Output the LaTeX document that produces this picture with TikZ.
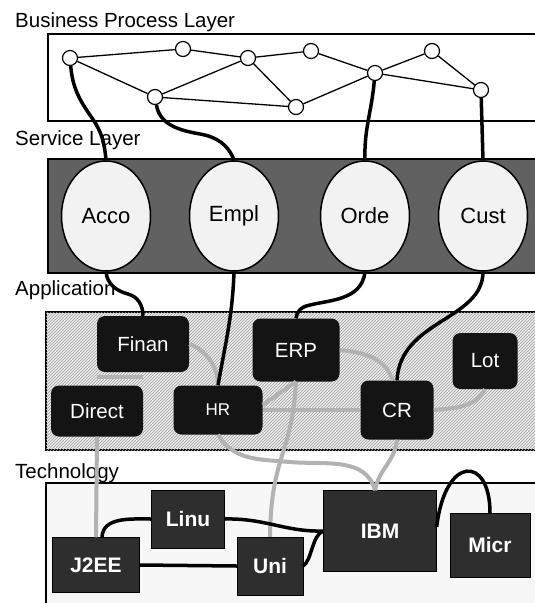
\documentclass[tikz,border=0pt]{standalone}
\usepackage{fontspec}
\setmainfont{Liberation Sans}
\usetikzlibrary{shapes.geometric,patterns}
\tikzset{
  layerlbl/.style={anchor=west, inner sep=0pt, font=\fontsize{20.5}{20.5}\selectfont},
  bpnode/.style={circle, draw=black, line width=1.2pt, fill=white, minimum size=15pt, inner sep=0pt},
  bpline/.style={line width=1.3pt},
  svc/.style={ellipse, draw=black, line width=1.5pt, fill=gray!10, minimum width=89pt, minimum height=110pt, inner sep=0pt, font=\fontsize{22}{22}\selectfont},
  appnode/.style={rectangle, rounded corners=8pt, fill=black!92, text=white, inner sep=0pt, font=\fontsize{20.5}{20.5}\selectfont},
  technode/.style={rectangle, draw=black, fill=black!82, text=white, inner sep=0pt, font=\bfseries\fontsize{21}{21}\selectfont},
  link/.style={line width=3.5pt, black},
  tie/.style={line width=4pt, gray!60}
}
\begin{document}
\begin{tikzpicture}[x=1pt,y=1pt]
\useasboundingbox (0,0) rectangle (535,-603);
\clip (0,0) rectangle (535,-603);
\fill[white] (0,0) rectangle (535,-603);
% layers
\draw[line width=1.5pt, fill=white] (48,-34) rectangle (545,-121);
\draw[line width=1.5pt, fill=black!62] (48,-159) rectangle (545,-273);
\draw[line width=1.5pt, fill=gray!15, postaction={pattern=north east lines, pattern color=gray!75}] (46,-312) rectangle (545,-450);
\draw[line width=1.5pt, fill=gray!6] (46,-483) rectangle (545,-615);
\node[layerlbl] (bpl) at (15,-22) {Business Process Layer};
\node[layerlbl] (svl) at (15,-140) {Service Layer};
\node[layerlbl] (apl) at (15,-290) {Application};
\node[layerlbl] (tcl) at (15,-473) {Technology};
% process graph
\node[bpnode] (bp1) at (70,-58) {};
\node[bpnode] (bp2) at (183,-49) {};
\node[bpnode] (bp3) at (248,-58) {};
\node[bpnode] (bp4) at (311,-51) {};
\node[bpnode] (bp5) at (375,-73) {};
\node[bpnode] (bp6) at (432,-51) {};
\node[bpnode] (bp7) at (481,-90) {};
\node[bpnode] (bp8) at (155,-97) {};
\node[bpnode] (bp9) at (296,-107) {};
\draw[bpline] (bp1)--(bp2)--(bp3)--(bp4)--(bp5)--(bp6)--(bp7)--(bp5);
\draw[bpline] (bp1)--(bp8)--(bp3)--(bp9)--(bp5);
\draw[bpline] (bp8)--(bp9);
% services
\node[svc] (Acco) at (106,-216) {Acco};
\node[svc] (Empl) at (234,-216) {Empl};
\node[svc] (Orde) at (365,-216) {Orde};
\node[svc] (Cust) at (483,-216) {Cust};
% applications
\node[appnode, minimum width=92pt, minimum height=56pt] (Finan) at (143,-344) {Finan};
\node[appnode, minimum width=87pt, minimum height=63pt] (ERP) at (296,-350) {ERP};
\node[appnode, minimum width=65pt, minimum height=56pt] (Lot) at (485,-361) {Lot};
\node[appnode, minimum width=92pt, minimum height=51pt] (Direct) at (97,-411) {Direct};
\node[appnode, minimum width=89pt, minimum height=49pt, font=\fontsize{17}{17}\selectfont] (HR) at (218,-410) {HR};
\node[appnode, minimum width=73pt, minimum height=59pt] (CR) at (397,-410) {CR};
% technology
\node[technode, minimum width=73pt, minimum height=58pt] (Linu) at (188,-519) {Linu};
\node[technode, minimum width=87pt, minimum height=55pt] (J2EE) at (96,-565) {J2EE};
\node[technode, minimum width=66pt, minimum height=58pt] (Uni) at (270,-566) {Uni};
\node[technode, minimum width=113pt, minimum height=81pt] (IBM) at (380,-531) {IBM};
\node[technode, minimum width=80pt, minimum height=64pt] (Micr) at (490,-545) {Micr};
% application ties
\coordinate (fd) at (97,-377);
\draw[tie] (fd) -- (Finan.south |- fd);
\draw[tie] (Finan.east) .. controls (205,-350) and (218,-365) .. (HR.north);
\draw[tie] (ERP.east) to[out=-5,in=110] ([xshift=-4pt]CR.north);
\draw[tie] (HR.east) -- (CR.west);
\draw[tie] (CR.east) to[out=5,in=-120] (Lot.south);
\draw[tie] (ERP.south) -- ([yshift=5pt]HR.east);
\draw[tie] (ERP.south) .. controls (292,-455) and (271,-455) .. (Uni.north);
\draw[tie] (HR.south) to[out=-60,in=175] (290,-462) to[out=-5,in=105] ([xshift=-5pt]IBM.north);
\draw[tie] (CR.south) to[out=-95,in=80] ([xshift=-5pt]IBM.north);
\draw[tie] (Direct.south) -- (J2EE.north);
% links
\draw[link] (bp1) to[out=-85,in=125] (92,-118) to[out=-55,in=95] (Acco.north);
\draw[link] (bp8) to[out=-80,in=170] (200,-134) to[out=-10,in=110] (Empl.north);
\draw[link] (bp5) to[out=-95,in=92] (Orde.north);
\draw[link] (bp7) -- (Cust.north);
\draw[link] (Acco.south) to[out=-85,in=165] (128,-294) to[out=-15,in=90] (Finan.north);
\draw[link] (Empl.south) to[out=-92,in=80] (HR.north);
\draw[link] (Orde.south) .. controls (362,-300) and (330,-300) .. (310,-305) .. controls (300,-307) and (297,-312) .. (ERP.north);
\draw[link] (Cust.south) .. controls (483,-320) and (400,-320) .. (CR.north);
\draw[link] ([xshift=6pt]J2EE.north) to[out=88,in=180] (Linu.west);
\draw[link] (Linu.east) .. controls (265,-518) and (285,-532) .. (IBM.west);
\draw[link] (J2EE.east) -- (Uni.west);
\draw[link] (Uni.east) .. controls (312,-560) and (312,-535) .. (IBM.west);
\draw[link] ([yshift=4pt]IBM.east) .. controls (445,-455) and (490,-455) .. (Micr.north);
\end{tikzpicture}
\end{document}
